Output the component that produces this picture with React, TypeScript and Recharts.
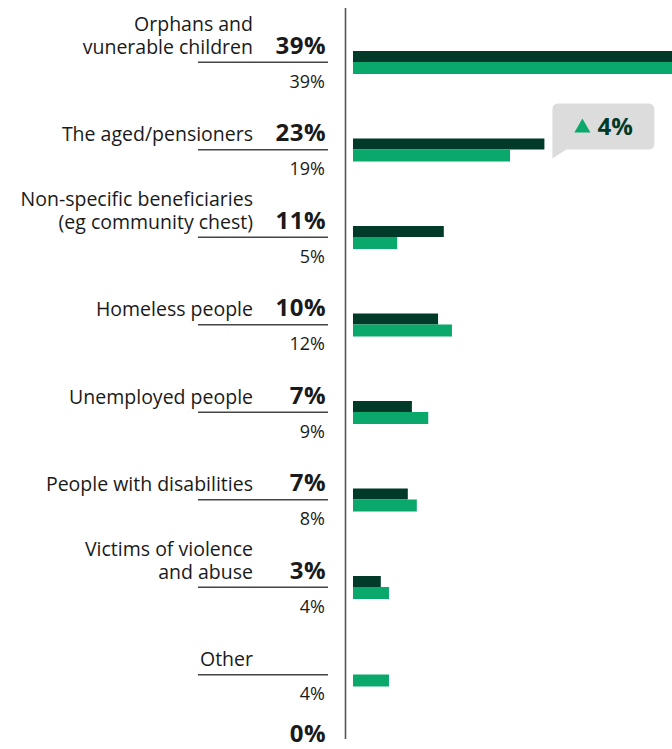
import React from "react";
import { BarChart, Bar, XAxis, YAxis, LabelList, Customized } from "recharts";

const categories = [
  "Orphans and\nvunerable children",
  "The aged/pensioners",
  "Non-specific beneficiaries\n(eg community chest)",
  "Homeless people",
  "Unemployed people",
  "People with disabilities",
  "Victims of violence\nand abuse",
  "Other",
];
const currentValues = [39, 23.4, 11.1, 10.4, 7.2, 6.7, 3.4, 0];
const previousValues = [39, 19.2, 5.4, 12.1, 9.2, 7.8, 4.4, 4.4];
const calloutIndex = 1;

const data = categories.map((name, i) => ({
  name,
  current: currentValues[i],
  previous: previousValues[i],
}));

const DARK = "#013a29";
const LIGHT = "#0aa96b";
const TEXT = "#1a1a1a";
const FONT = "'Open Sans', 'Noto Sans', sans-serif";

const CategoryTick = (props: any) => {
  const { y, payload } = props;
  const i = categories.indexOf(payload.value);
  const lines: string[] = String(payload.value).split("\n");
  const isLast = i === categories.length - 1;
  const lastBaseline = y - 9;
  return (
    <g fontFamily={FONT}>
      {lines.map((l, k) => (
        <text
          key={k}
          x={253}
          y={lastBaseline - (lines.length - 1 - k) * 23}
          textAnchor="end"
          fontSize={19.5}
          fill={TEXT}
        >
          {l}
        </text>
      ))}
      <text
        x={326}
        y={isLast ? y + 67 : y - 9}
        textAnchor="end"
        fontSize={24}
        fontWeight={700}
        letterSpacing={0.5}
        fill={TEXT}
      >
        {Math.round(currentValues[i])}%
      </text>
      <line x1={198} x2={328} y1={y - 0.5} y2={y - 0.5} stroke="#444" strokeWidth={1.5} />
      <text x={325} y={y + 25} textAnchor="end" fontSize={18} fill={TEXT}>
        {Math.round(previousValues[i])}%
      </text>
    </g>
  );
};

const Callout = (props: any) => {
  const { x, y, width, height, index } = props;
  if (index !== calloutIndex) return null;
  const diff = Math.round(currentValues[index]) - Math.round(previousValues[index]);
  const bx = Number(x) + Number(width) + 8;
  const bottom = Number(y) + Number(height);
  const top = bottom - 46;
  const w = 102;
  const r = 6;
  const d = `M${bx + r},${top} H${bx + w - r} Q${bx + w},${top} ${bx + w},${top + r} V${bottom - r} Q${bx + w},${bottom} ${bx + w - r},${bottom} H${bx + 14} L${bx},${bottom + 9} V${top + r} Q${bx},${top} ${bx + r},${top} Z`;
  return (
    <g>
      <path d={d} fill="#dcdcdc" />
      <path d={`M${bx + 22},${top + 29} L${bx + 30},${top + 15} L${bx + 38},${top + 29} Z`} fill={LIGHT} />
      <text x={bx + 45} y={top + 31} fontSize={24} fontWeight={700} fill={DARK} fontFamily={FONT}>
        {diff}%
      </text>
    </g>
  );
};

const VLine = () => <line x1={345.5} x2={345.5} y1={8} y2={739} stroke="#555" strokeWidth={1.6} />;

export default function App() {
  return (
    <div style={{ width: 672, height: 749, fontFamily: FONT, background: "#fff" }}>
      <style>{"body{margin:0}"}</style>
      <BarChart
        width={672}
        height={749}
        data={data}
        layout="vertical"
        margin={{ top: 19, right: 0, bottom: 30, left: 0 }}
        barGap={0}
        barCategoryGap={0}
      >
        <XAxis type="number" hide domain={[0, 39]} allowDataOverflow />
        <YAxis
          type="category"
          dataKey="name"
          width={353}
          axisLine={false}
          tickLine={false}
          tick={<CategoryTick />}
          interval={0}
        />
        <Customized component={<VLine />} />
        <Bar dataKey="current" fill={DARK} barSize={11} isAnimationActive={false}>
          <LabelList dataKey="current" content={<Callout />} />
        </Bar>
        <Bar dataKey="previous" fill={LIGHT} barSize={12} isAnimationActive={false} />
      </BarChart>
    </div>
  );
}
